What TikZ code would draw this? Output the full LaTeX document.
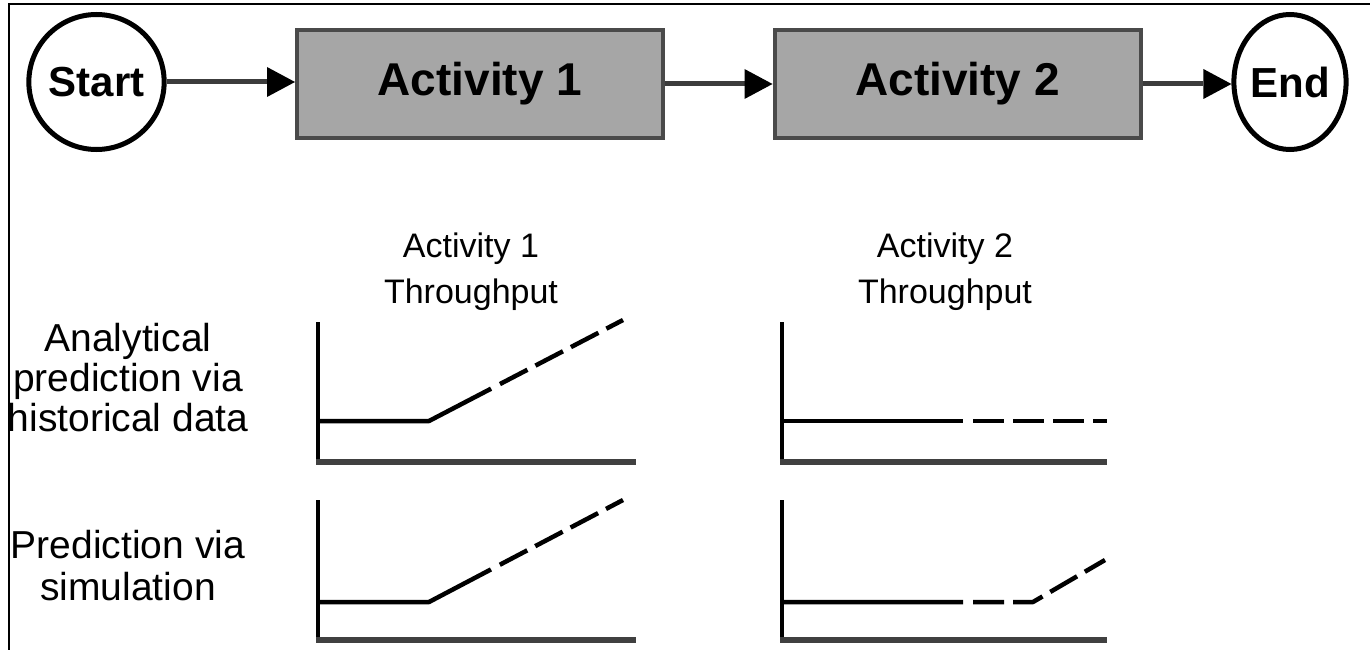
\documentclass[tikz,border=0pt]{standalone}
\usepackage{fontspec}
\setmainfont{Liberation Sans}
\usetikzlibrary{arrows.meta,shapes.geometric}
\definecolor{boxgray}{HTML}{A6A6A6}
\definecolor{edgegray}{HTML}{4A4A4A}
\definecolor{axisgray}{HTML}{404040}
\definecolor{flowgray}{HTML}{3C3C3C}
\tikzset{
  terminal/.style={ellipse, draw=black, line width=5pt, fill=white,
    minimum width=108pt, minimum height=135pt, inner sep=0pt,
    font=\bfseries\fontsize{42}{42}\selectfont},
  activity/.style={rectangle, draw=edgegray, line width=4pt, fill=boxgray,
    minimum width=366pt, minimum height=108pt, inner sep=0pt,
    font=\bfseries\fontsize{46}{46}\selectfont},
  flow/.style={draw=flowgray, line width=5pt,
    -{Triangle[length=28pt, width=30pt, fill=black, line width=0pt]}},
  plaintext/.style={align=center, inner sep=0pt, anchor=base},
  yaxisline/.style={draw=black, line width=4pt},
  xaxisline/.style={draw=axisgray, line width=5.5pt},
  curve/.style={draw=black, line width=4.5pt, line join=round,
    dash pattern=on 181pt off 10pt on 31pt off 9pt on 31pt off 9pt on 31pt off 9pt on 31pt off 9pt},
}
\begin{document}
\begin{tikzpicture}[x=1pt, y=-1pt]
  \useasboundingbox (0,0) rectangle (1370,650);
  % frame edges
  \draw[line width=2pt] (9,650) -- (9,4) -- (1370,4);

  % process flow
  \node[terminal] (start) at (96.5,82) {Start};
  \node[activity] (act1) at (480,84) {Activity 1};
  \node[activity] (act2) at (957.5,84) {Activity 2};
  \node[terminal] (end) at (1290,82) {End};
  \draw[flow] (start) -- (start -| act1.west);
  \draw[flow] (act1) -- (act2);
  \draw[flow] (act2.east) -- (act2.east -| end.west);

  % column headings (anchor = baseline of the last line)
  \node[plaintext, font=\fontsize{34}{46}\selectfont] (head1) at (471,303) {Activity 1\\Throughput};
  \node[plaintext, font=\fontsize{34}{46}\selectfont] (head2) at (945,303) {Activity 2\\Throughput};

  % row headings
  \node[plaintext, font=\fontsize{39}{40}\selectfont] (row1) at (128,431) {Analytical\\prediction via\\historical data};
  \node[plaintext, font=\fontsize{39}{42}\selectfont] (row2) at (128,600) {Prediction via\\simulation};

  % chart: activity 1, analytical
  \draw[yaxisline] (318,322) -- (318,464);
  \draw[xaxisline] (316,462) -- (636,462);
  \draw[curve] (318,421) -- (429,421) -- (623,320);

  % chart: activity 2, analytical
  \draw[yaxisline] (782,322) -- (782,464);
  \draw[xaxisline] (780,462) -- (1107,462);
  \draw[curve] (782,421) -- (1107,421);

  % chart: activity 1, simulation
  \draw[yaxisline] (318,500) -- (318,642);
  \draw[xaxisline] (316,640) -- (636,640);
  \draw[curve] (318,602) -- (429,602) -- (623,500);

  % chart: activity 2, simulation
  \draw[yaxisline] (782,500) -- (782,642);
  \draw[xaxisline] (780,640) -- (1107,640);
  \draw[curve] (782,602) -- (1033,602) -- (1105,560);
\end{tikzpicture}
\end{document}
